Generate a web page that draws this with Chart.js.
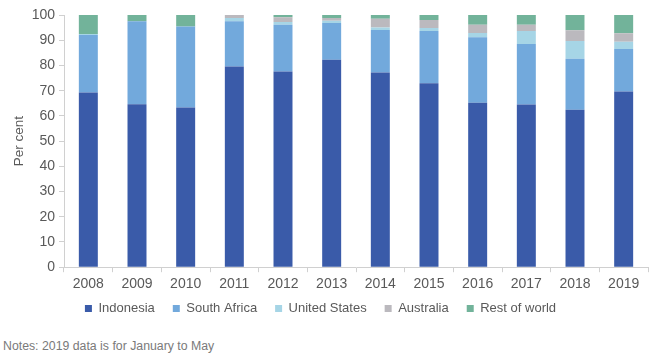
<!DOCTYPE html>
<html><head><meta charset="utf-8">
<script src="https://cdn.jsdelivr.net/npm/chart.js@4"></script>
<style>
html,body{margin:0;padding:0;background:#fff;}
#wrap{position:relative;width:665px;height:355px;}
#c{position:absolute;left:0;top:0;}
#note{position:absolute;left:3px;top:339px;font:12.3px "Liberation Sans",Arial,sans-serif;color:#7a7a7a;}
</style></head>
<body>
<div id="wrap"><canvas id="c" width="665" height="338" style="width:665px;height:338px;"></canvas>
<div id="note">Notes: 2019 data is for January to May</div></div>
<script>
const years = ["2008","2009","2010","2011","2012","2013","2014","2015","2016","2017","2018","2019"];
const indonesia   = [69.3, 64.6, 63.3, 79.6, 77.6, 82.3, 77.2, 72.9, 65.2, 64.5, 62.4, 69.7];
const southAfrica = [22.8, 32.9, 32.1, 17.9, 18.5, 14.5, 16.9, 20.8, 26.0, 24.0, 20.3, 16.8];
const unitedStates= [0.4, 0.0, 0.0, 1.3, 1.1, 0.9, 0.9, 1.1, 1.7, 5.2, 7.0, 2.9];
const australia   = [0.0, 0.0, 0.0, 1.2, 1.9, 1.1, 3.5, 3.2, 3.2, 2.4, 4.3, 3.4];
const restOfWorld = [7.5, 2.5, 4.6, 0.0, 0.9, 1.2, 1.5, 2.0, 3.9, 3.9, 6.0, 7.2];
const yTicks = [0,10,20,30,40,50,60,70,80,90,100];

const fam = '"Liberation Sans", Arial, sans-serif';
const font = {family: fam, size: 13};
const tickFont = {family: fam, size: 14};
const txt = '#595959';
const mk = (label, data, color) => ({label, data, backgroundColor: color, borderWidth: 0, barPercentage: 0.78, categoryPercentage: 0.5});

const legendShift = {
  id: 'legendShift',
  afterLayout(chart) {
    const l = chart.legend;
    if (l) { l.left -= 9; l.right -= 9; l.top -= 13; l.bottom -= 13; }
  }
};

new Chart(document.getElementById('c'), {
  type: 'bar',
  data: {
    labels: years,
    datasets: [
      mk('Indonesia', indonesia, '#3A5BA9'),
      mk('South Africa', southAfrica, '#72A9DC'),
      mk('United States', unitedStates, '#A6D5E6'),
      mk('Australia', australia, '#BBB9BE'),
      mk('Rest of world', restOfWorld, '#72B39A')
    ]
  },
  plugins: [legendShift],
  options: {
    responsive: false,
    animation: false,
    devicePixelRatio: 1,
    layout: {padding: {left: 11, right: 17, top: 15, bottom: 0}},
    plugins: {
      legend: {
        position: 'bottom',
        labels: {boxWidth: 7, boxHeight: 7, padding: 18, color: txt, font: font}
      },
      tooltip: {enabled: false}
    },
    scales: {
      x: {
        stacked: true,
        grid: {display: true, drawOnChartArea: false, offset: true, color: '#d0d0d0', tickLength: 5},
        border: {color: '#d0d0d0'},
        ticks: {color: txt, font: tickFont, padding: 4}
      },
      y: {
        stacked: true,
        min: 0, max: 100,
        afterBuildTicks: (s) => { s.ticks = yTicks.map(v => ({value: v})); },
        afterFit: (s) => { s.width = 53; },
        grid: {display: true, drawOnChartArea: false, color: '#d0d0d0', tickLength: 5},
        border: {color: '#d0d0d0'},
        ticks: {color: txt, font: tickFont, padding: 4},
        title: {display: true, text: 'Per cent', color: txt, font: {family: fam, size: 13.5}, padding: {top: 0, bottom: 0}}
      }
    }
  }
});
</script>
</body></html>
